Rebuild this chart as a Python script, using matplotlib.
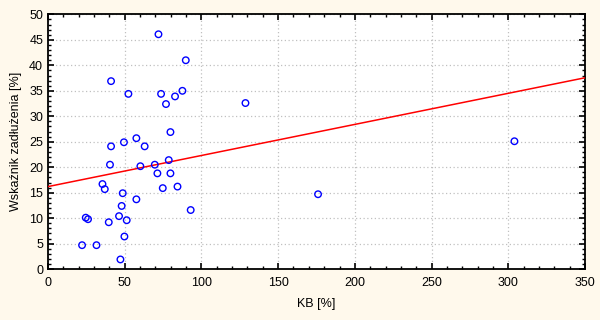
import numpy as np
import matplotlib
matplotlib.use("Agg")
import matplotlib.pyplot as plt
from matplotlib.ticker import MultipleLocator

kb = [72.0, 89.8, 41.1, 52.4, 73.7, 87.6, 82.8, 76.9, 79.8, 57.6, 49.5, 41.1,
      63.0, 40.4, 60.2, 69.6, 78.7, 71.3, 79.8, 35.5, 37.0, 48.7, 74.8, 84.4,
      57.6, 48.0, 93.0, 24.6, 26.1, 39.6, 46.3, 51.3, 49.8, 22.2, 31.6, 47.2,
      128.7, 304.0, 176.0]
debt = [46.1, 41.0, 36.9, 34.4, 34.4, 35.0, 33.9, 32.4, 26.9, 25.7, 24.9, 24.1,
        24.1, 20.5, 20.2, 20.5, 21.4, 18.8, 18.8, 16.7, 15.7, 14.9, 15.9, 16.2,
        13.7, 12.4, 11.6, 10.1, 9.8, 9.2, 10.4, 9.6, 6.4, 4.7, 4.7, 1.9,
        32.6, 25.1, 14.7]

x_label = "KB [%]"
y_label = "Wskaźnik zadłużenia [%]"

plt.rcParams['font.family'] = ['Liberation Sans', 'DejaVu Sans']

fig = plt.figure(figsize=(6, 3.2), dpi=100)
bg = '#FFF9EC'
fig.patch.set_facecolor(bg)
ax = fig.add_axes([0.08, 0.159, 0.895, 0.796])
ax.set_facecolor('white')

slope, intercept = np.polyfit(kb, debt, 1)
xs = np.array([0, 350])
ax.plot(xs, intercept + slope * xs, color='#FF0000', lw=1.1, zorder=3)

ax.scatter(kb, debt, s=22, facecolors='none', edgecolors='#0000FF', linewidths=1.0, zorder=4)

ax.set_xlim(0, 350)
ax.set_ylim(0, 50)
ax.xaxis.set_major_locator(MultipleLocator(50))
ax.xaxis.set_minor_locator(MultipleLocator(10))
ax.yaxis.set_major_locator(MultipleLocator(5))
ax.yaxis.set_minor_locator(MultipleLocator(1))
ax.tick_params(which='both', direction='in', top=True, right=True, labelsize=9, colors='black')
ax.tick_params(which='major', length=4, width=1.2)
ax.tick_params(which='minor', length=2, width=1.0)
ax.tick_params(axis='x', which='major', pad=6)
ax.grid(True, which='major', color='#C0C0C0', linestyle=(0, (1, 2)), lw=0.9)
for s in ax.spines.values():
    s.set_linewidth(1.3)
ax.set_xlabel(x_label, fontsize=9, labelpad=6)
ax.set_ylabel(y_label, fontsize=9, labelpad=5)
fig.savefig('out.png', dpi=100, facecolor=bg)
